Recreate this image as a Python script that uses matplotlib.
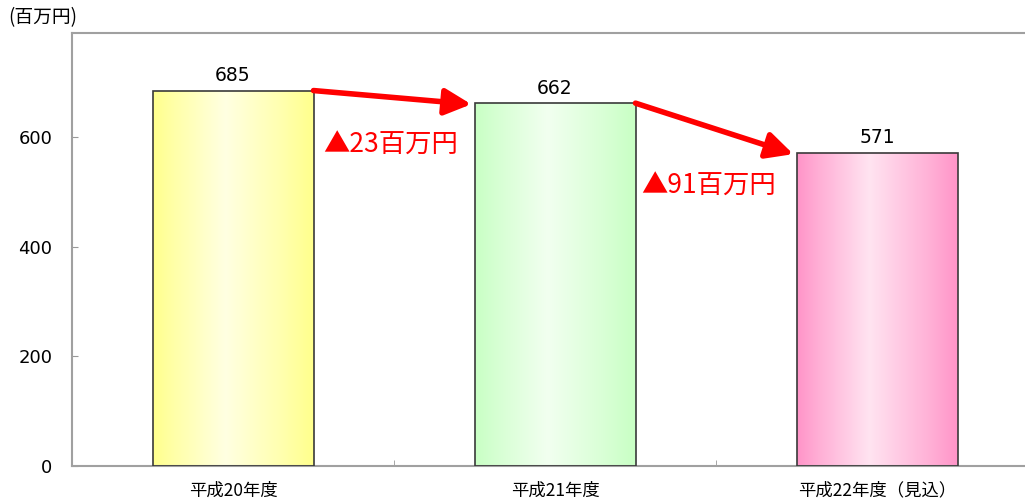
import numpy as np
import matplotlib
matplotlib.use("Agg")
import matplotlib.pyplot as plt
from matplotlib.colors import to_rgb
from matplotlib.patches import FancyArrowPatch

plt.rcParams['font.family'] = ['Noto Sans CJK JP', 'DejaVu Sans']

categories = ["平成20年度", "平成21年度", "平成22年度（見込）"]
values = [685, 662, 571]
changes = ["▲23百万円", "▲91百万円"]
unit_label = "(百万円)"
yticks = [0, 200, 400, 600]

edge_colors = ["#FFFF8C", "#C8FFC4", "#FF94C8"]
center_colors = ["#FFFFE2", "#F2FFF0", "#FFE4F1"]

fig = plt.figure(figsize=(10.25, 4.99), dpi=100)
ax = fig.add_axes([72 / 1025, 33 / 499, 966 / 1025, 433 / 499])

x = np.arange(len(categories))
bar_w = 0.5
bars = ax.bar(x, values, width=bar_w, facecolor="none",
              edgecolor="#3a3a3a", linewidth=1.2, zorder=3)

# horizontal gradient fill clipped to each bar
t = np.linspace(0, 1, 256)
profile = np.interp(t, [0, 0.12, 0.45, 0.8, 1], [0, 0.3, 1, 0.4, 0])
for rect, ec, cc in zip(bars, edge_colors, center_colors):
    e = np.array(to_rgb(ec))
    c = np.array(to_rgb(cc))
    grad = e[None, :] + (c - e)[None, :] * profile[:, None]
    img = ax.imshow(grad[None, :, :], aspect="auto", zorder=2,
                    extent=[rect.get_x(), rect.get_x() + rect.get_width(),
                            0, rect.get_height()], interpolation="bilinear")
    img.set_clip_path(rect)
    ax.annotate(f"{rect.get_height():.0f}",
                (rect.get_x() + rect.get_width() / 2, rect.get_height()),
                xytext=(0, 4), textcoords="offset points",
                ha="center", va="bottom", fontsize=13.5,
                family=['DejaVu Sans'], zorder=5)

# arrows between consecutive years
for i in range(len(values) - 1):
    start = (x[i] + bar_w / 2, values[i])
    end = (x[i + 1] - bar_w / 2 - 0.01, values[i + 1] - 2)
    arr = FancyArrowPatch(start, end, arrowstyle="-|>,head_length=0.8,head_width=0.4",
                          mutation_scale=20, color="#FF0000", linewidth=4,
                          shrinkA=0, shrinkB=0, zorder=6)
    ax.add_patch(arr)

ax.text(0.49, 585, changes[0], color="#FF0000", fontsize=19,
        ha="center", va="center", zorder=6)
ax.text(1.478, 511, changes[1], color="#FF0000", fontsize=19,
        ha="center", va="center", zorder=6)

ax.set_xlim(-0.5, 2.5)
ax.set_ylim(0, 790)
ax.set_yticks(yticks)
ax.set_yticklabels([str(v) for v in yticks], fontsize=13, family=['DejaVu Sans'])
ax.set_xticks(x)
ax.set_xticklabels(categories, fontsize=12.5)
ax.set_xticks([0.5, 1.5], minor=True)
ax.tick_params(axis="x", which="major", length=0, pad=11)
ax.tick_params(axis="x", which="minor", direction="in", length=4, color="#999999")
ax.tick_params(axis="y", direction="in", length=4, color="#999999", pad=14)

for s in ["left", "top", "bottom"]:
    ax.spines[s].set_color("#A0A0A0")
    ax.spines[s].set_linewidth(1.5)
ax.spines["right"].set_visible(False)

fig.text(8 / 1025, 1 - 18 / 499, unit_label, fontsize=13.5, ha="left", va="center")

fig.savefig("out.png", dpi=100)
